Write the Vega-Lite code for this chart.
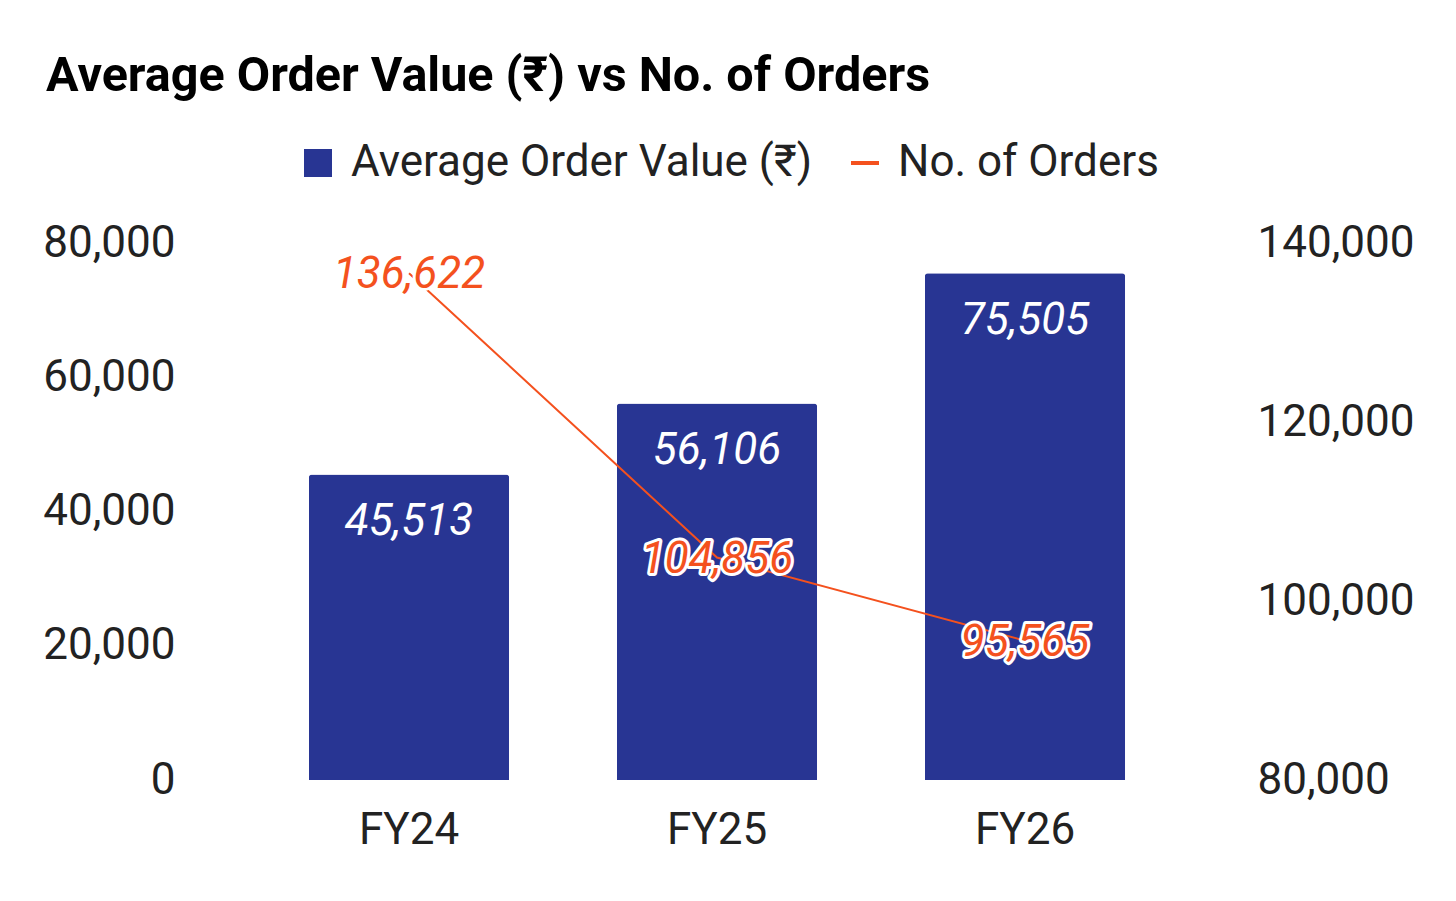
{
  "$schema": "https://vega.github.io/schema/vega-lite/v6.json",
  "width": 924,
  "height": 537,
  "autosize": {"type": "none"},
  "padding": {"left": 255, "top": 243, "right": 277, "bottom": 121},
  "background": "white",
  "config": {
    "font": "Roboto",
    "view": {"stroke": null},
    "axis": {"labelFont": "Roboto", "labelFontSize": 44, "labelColor": "#222222", "domain": false, "ticks": false, "grid": false, "title": null},
    "legend": {"labelFont": "Roboto", "labelFontSize": 44, "labelColor": "#222222", "labelLimit": 800}
  },
  "title": {
    "text": "Average Order Value (₹) vs No. of Orders",
    "anchor": "start",
    "frame": "group",
    "dx": -209,
    "fontSize": 48.5,
    "fontWeight": "bold",
    "color": "#000000",
    "offset": 40
  },
  "data": {
    "values": [
      {"fy": "FY24", "aov": 45513, "orders": 136622},
      {"fy": "FY25", "aov": 56106, "orders": 104856},
      {"fy": "FY26", "aov": 75505, "orders": 95565}
    ]
  },
  "encoding": {
    "x": {
      "field": "fy",
      "type": "nominal",
      "scale": {"paddingInner": 0.35, "paddingOuter": 0.175},
      "axis": {"labelAngle": 0, "labelPadding": 28}
    }
  },
  "layer": [
    {
      "encoding": {
        "y": {
          "field": "aov",
          "type": "quantitative",
          "scale": {"domain": [0, 80000]},
          "axis": {"orient": "left", "values": [0, 20000, 40000, 60000, 80000], "format": ",.0f", "labelPadding": 80}
        }
      },
      "layer": [
        {
          "mark": {"type": "bar", "cornerRadiusTopLeft": 3, "cornerRadiusTopRight": 3},
          "encoding": {
            "color": {
              "datum": "Average Order Value (₹)",
              "scale": {"range": ["#283593"]},
              "legend": {"orient": "none", "legendX": 41, "legendY": -102, "title": null, "symbolType": "square", "symbolSize": 784, "labelOffset": 11}
            }
          }
        },
        {
          "mark": {"type": "text", "fontSize": 44, "fontStyle": "italic", "color": "white", "baseline": "middle", "dy": 48},
          "encoding": {"text": {"field": "aov", "type": "quantitative", "format": ","}}
        }
      ]
    },
    {
      "encoding": {
        "y": {
          "field": "orders",
          "type": "quantitative",
          "scale": {"domain": [80000, 140000]},
          "axis": {"orient": "right", "values": [80000, 100000, 120000, 140000], "format": ",.0f", "labelPadding": 78}
        }
      },
      "layer": [
        {
          "mark": {"type": "line", "strokeWidth": 2},
          "encoding": {
            "stroke": {
              "datum": "No. of Orders",
              "scale": {"range": ["#F4511E"]},
              "legend": {"orient": "none", "legendX": 588, "legendY": -102, "title": null, "symbolType": "stroke", "symbolSize": 784, "symbolStrokeWidth": 4, "labelOffset": 11}
            }
          }
        },
        {
          "mark": {"type": "text", "fontSize": 44, "fontStyle": "italic", "baseline": "middle", "dy": 2, "fill": "#F4511E", "stroke": "white", "strokeWidth": 6, "strokeJoin": "round"},
          "encoding": {"text": {"field": "orders", "type": "quantitative", "format": ","}}
        },
        {
          "mark": {"type": "text", "fontSize": 44, "fontStyle": "italic", "baseline": "middle", "dy": 2, "fill": "#F4511E"},
          "encoding": {"text": {"field": "orders", "type": "quantitative", "format": ","}}
        }
      ]
    }
  ],
  "resolve": {"scale": {"y": "independent"}}
}
